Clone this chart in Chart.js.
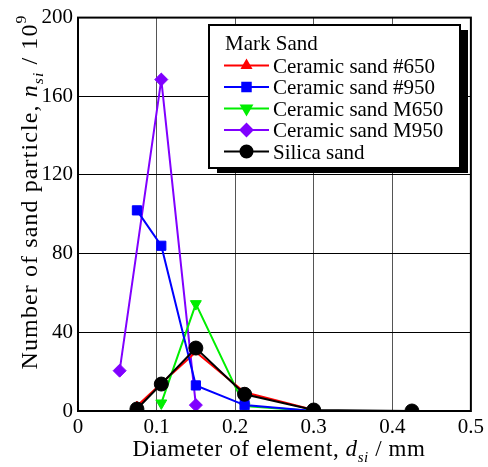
<!DOCTYPE html>
<html>
<head>
<meta charset="utf-8">
<script src="https://cdn.jsdelivr.net/npm/chart.js@4/dist/chart.umd.min.js"></script>
<style>
  html, body { margin: 0; padding: 0; background: #fff; }
  #wrap { width: 488px; height: 467px; }
</style>
</head>
<body>
<div id="wrap"><canvas id="c" width="488" height="467"></canvas></div>
<script>
// diameters (mm) and counts (x10^9)
const c650X = [0.075, 0.106, 0.15, 0.212, 0.3];
const c650Y = [2.5, 14, 30, 9.5, 0.5];
const c950X = [0.075, 0.106, 0.15, 0.212, 0.3];
const c950Y = [102, 84, 13, 3, 0];
const m650X = [0.106, 0.15, 0.212, 0.3];
const m650Y = [4, 54.5, 2.5, 0];
const m950X = [0.053, 0.106, 0.15];
const m950Y = [20.5, 168.5, 3];
const silicaX = [0.075, 0.106, 0.15, 0.212, 0.3, 0.425];
const silicaY = [1, 13.7, 32, 8.5, 0.5, 0];

const xTicks = [0, 0.1, 0.2, 0.3, 0.4, 0.5];
const yTicks = [0, 40, 80, 120, 160, 200];

const FONT = '"Liberation Serif", "DejaVu Serif", serif';

function pts(xs, ys) {
  return xs.map((x, i) => ({ x: x, y: ys[i] }));
}

function series(label, xs, ys, color, style, radius, rotation, order) {
  return {
    label: label,
    data: pts(xs, ys),
    showLine: true,
    borderColor: color,
    backgroundColor: color,
    borderWidth: 2,
    pointStyle: style,
    pointRadius: radius,
    pointRotation: rotation,
    pointBorderWidth: 1,
    pointBorderColor: color,
    pointBackgroundColor: color,
    tension: 0,
    order: order
  };
}

// draws text made of plain / italic / sub / sup pieces
function setPart(ctx, p, size) {
  const s = p.sub || p.sup ? size * 0.65 : size;
  ctx.font = (p.it ? 'italic ' : '') + s + 'px ' + FONT;
}
function drawRich(ctx, parts, x, y, size, spacing) {
  ctx.letterSpacing = spacing + 'px';
  let w = 0;
  parts.forEach(p => { setPart(ctx, p, size); w += ctx.measureText(p.t).width; });
  let cx = x - w / 2;
  parts.forEach(p => {
    setPart(ctx, p, size);
    let dy = 0;
    if (p.sub) dy = size * 0.25;
    if (p.sup) dy = -size * 0.45;
    ctx.fillText(p.t, cx, y + dy);
    cx += ctx.measureText(p.t).width;
  });
  ctx.letterSpacing = '0px';
}

const xTitle = [
  { t: 'Diameter of element, ' }, { t: 'd', it: true }, { t: 'si', it: true, sub: true }, { t: ' / mm' }
];
const yTitle = [
  { t: 'Number of sand particle, ' }, { t: 'n', it: true }, { t: 'si', it: true, sub: true },
  { t: ' / 10' }, { t: '9', sup: true }
];

const extras = {
  id: 'extras',
  afterDraw(chart) {
    const ctx = chart.ctx;
    const a = chart.chartArea;
    ctx.save();
    // frame
    ctx.strokeStyle = '#000';
    ctx.lineWidth = 2;
    ctx.strokeRect(a.left, a.top, a.right - a.left, a.bottom - a.top);

    // axis titles
    ctx.fillStyle = '#000';
    ctx.textBaseline = 'alphabetic';
    ctx.textAlign = 'left';
    drawRich(ctx, xTitle, 279, 456, 23, 0.6);
    ctx.save();
    ctx.translate(37, 192);
    ctx.rotate(-Math.PI / 2);
    drawRich(ctx, yTitle, 0, 0, 24, 1.1);
    ctx.restore();

    // legend box with shadow
    const bx = 209, by = 25, bw = 251, bh = 143;
    ctx.fillStyle = '#000';
    ctx.fillRect(bx + 8, by + 5, bw, bh);
    ctx.fillStyle = '#fff';
    ctx.fillRect(bx, by, bw, bh);
    ctx.lineWidth = 2;
    ctx.strokeRect(bx, by, bw, bh);

    ctx.fillStyle = '#000';
    ctx.font = '21px ' + FONT;
    ctx.fillText('Mark Sand', 225, 50);
    const legendOrder = [0, 1, 2, 3, 4];
    legendOrder.forEach((di, i) => {
      const ds = chart.data.datasets[di];
      const yy = 65.5 + i * 21.5;
      ctx.strokeStyle = ds.borderColor;
      ctx.fillStyle = ds.borderColor;
      ctx.lineWidth = 2;
      ctx.beginPath();
      ctx.moveTo(224, yy);
      ctx.lineTo(269, yy);
      ctx.stroke();
      Chart.helpers.drawPoint(ctx, {
        pointStyle: ds.pointStyle,
        radius: Math.min(ds.pointRadius, 6),
        rotation: ds.pointRotation,
        borderWidth: 1
      }, 246.5, yy);
      ctx.fillStyle = '#000';
      ctx.font = '21px ' + FONT;
      ctx.fillText(ds.label, 273, yy + 7);
    });
    ctx.restore();
  }
};

new Chart(document.getElementById('c'), {
  type: 'scatter',
  data: {
    datasets: [
      series('Ceramic sand #650', c650X, c650Y, '#ff0000', 'triangle', 5, 0, 4),
      series('Ceramic sand #950', c950X, c950Y, '#0000ff', 'rect', 6.5, 0, 2),
      series('Ceramic sand M650', m650X, m650Y, '#00ee00', 'triangle', 6.3, 180, 3),
      series('Ceramic sand M950', m950X, m950Y, '#8000ff', 'rectRot', 6.5, 0, 5),
      series('Silica sand', silicaX, silicaY, '#000000', 'circle', 7, 0, 0)
    ]
  },
  options: {
    responsive: false,
    animation: false,
    events: [],
    layout: { padding: { top: 17, right: 16, left: 0, bottom: 0 } },
    plugins: { legend: { display: false }, tooltip: { enabled: false } },
    scales: {
      x: {
        type: 'linear',
        min: 0,
        max: 0.5,
        afterBuildTicks: s => { s.ticks = xTicks.map(v => ({ value: v })); },
        afterFit: s => { s.height = 56; },
        grid: { color: '#555', lineWidth: 1, drawTicks: false },
        border: { display: false },
        ticks: {
          color: '#000',
          padding: 4,
          font: { family: FONT, size: 21 },
          callback: v => (v === 0 ? '0' : v.toFixed(1))
        }
      },
      y: {
        min: 0,
        max: 200,
        afterBuildTicks: s => { s.ticks = yTicks.map(v => ({ value: v })); },
        afterFit: s => { s.width = 78; },
        grid: { color: '#000', lineWidth: 1, drawTicks: false },
        border: { display: false },
        ticks: {
          color: '#000',
          padding: 5,
          font: { family: FONT, size: 21 }
        }
      }
    }
  },
  plugins: [extras]
});
</script>
</body>
</html>
